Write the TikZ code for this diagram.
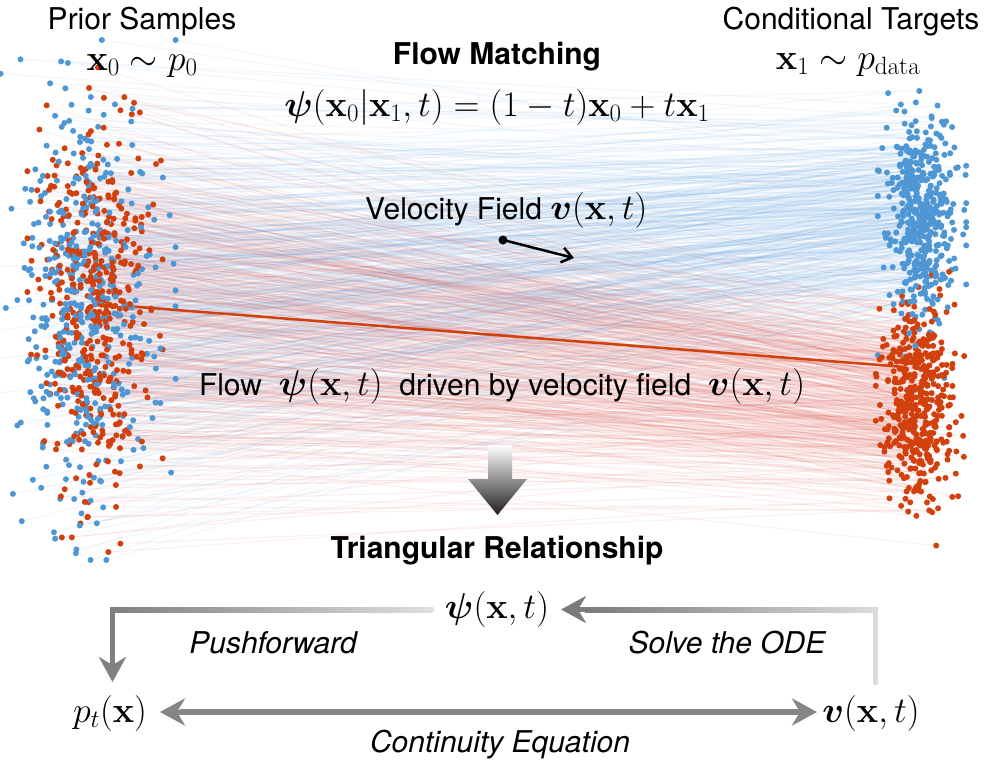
\RequirePackage{fix-cm}
\documentclass[tikz,border=0pt]{standalone}
\usepackage{amsmath,bm}
\usepackage[no-math]{fontspec}
\setmainfont{TeX Gyre Heros}
\DeclareMathSizes{30}{36}{25}{18}
\usetikzlibrary{arrows.meta,calc}
\definecolor{dotblue}{RGB}{78,150,212}
\definecolor{dotred}{RGB}{210,64,14}
\definecolor{lineblue}{RGB}{90,160,230}
\definecolor{linered}{RGB}{225,70,60}
\newcommand\fourgauss{%
  \pgfmathsetmacro\uA{max(rnd,0.0002)}%
  \pgfmathsetmacro\uB{rnd}%
  \pgfmathsetmacro\uC{max(rnd,0.0002)}%
  \pgfmathsetmacro\uD{rnd}%
  \pgfmathsetmacro\gA{max(-2.6,min(2.6,sqrt(-2*ln(\uA))*cos(360*\uB)))}%
  \pgfmathsetmacro\gB{max(-2.6,min(2.6,sqrt(-2*ln(\uA))*sin(360*\uB)))}%
  \pgfmathsetmacro\gC{max(-2.6,min(2.6,sqrt(-2*ln(\uC))*cos(360*\uD)))}%
  \pgfmathsetmacro\gD{max(-2.6,min(2.6,sqrt(-2*ln(\uC))*sin(360*\uD)))}%
}
\newcommand\bluepair{%
  \fourgauss
  \pgfmathsetmacro\lx{82+36*\gA}%
  \pgfmathsetmacro\ly{300+100*\gB}%
  \pgfmathsetmacro\rx{922+17*\gC}%
  \pgfmathsetmacro\ry{215+50*(0.7*\gB+0.714*\gD)}%
}
\newcommand\redpair{%
  \fourgauss
  \pgfmathsetmacro\lx{95+26*\gA}%
  \pgfmathsetmacro\ly{305+95*\gB}%
  \pgfmathsetmacro\rx{920+17*\gC}%
  \pgfmathsetmacro\ry{402+50*(0.7*\gB+0.714*\gD)}%
}
\tikzset{
  lbl/.style={inner sep=0pt, font=\fontsize{30}{36}\selectfont},
  lblb/.style={inner sep=0pt, font=\fontsize{30}{36}\selectfont\bfseries},
  lbli/.style={inner sep=0pt, font=\fontsize{30}{36}\selectfont\itshape},
  blueflow/.style={lineblue, line width=1.1pt, draw opacity=0.08},
  redflow/.style={linered, line width=1.1pt, draw opacity=0.08},
  headtip/.style={-{Stealth[length=25pt,width=27pt,inset=8pt]}},
}
\begin{document}
\begin{tikzpicture}[x=1pt,y=-1pt]
\fill[white] (0,0) rectangle (996,763);
\useasboundingbox (0,0) rectangle (996,763);
% flow lines
\pgfmathsetseed{11}
\foreach \i in {1,...,460}{
  \bluepair
  \draw[blueflow] (\lx,\ly) -- (\rx,\ry);
  \redpair
  \draw[redflow] (\lx,\ly) -- (\rx,\ry);
}
% highlighted trajectory
\coordinate (hlA) at (125,306);
\coordinate (hlB) at (905,367);
\draw[dotred, line width=2.5pt] (hlA) -- (hlB);
% dots
\pgfmathsetseed{11}
\foreach \i in {1,...,460}{
  \bluepair
  \fill[dotblue] (\lx,\ly) circle[radius=3pt];
  \fill[dotblue] (\rx,\ry) circle[radius=3pt];
  \redpair
  \fill[dotred] (\lx,\ly) circle[radius=3pt];
  \fill[dotred] (\rx,\ry) circle[radius=3pt];
}
% titles
\node[lbl, anchor=base] (prior) at (142,29) {Prior Samples};
\node[lbl, anchor=base] (cond) at (851,29) {Conditional Targets};
\node[lbl, anchor=base] (x0) at (142,70) {$\mathbf{x}_0\sim p_0$};
\node[lbl, anchor=base] (x1) at (848,69) {$\mathbf{x}_1\sim p_{\mathrm{data}}$};
\node[lblb, anchor=base] (fm) at (497,64) {Flow Matching};
\node[lbl, anchor=base] (formula) at (497,116) {$\bm{\psi}(\mathbf{x}_0|\mathbf{x}_1,t)=(1-t)\mathbf{x}_0+t\mathbf{x}_1$};
% velocity field
\node[lbl, anchor=base west] (vf) at (365,219) {Velocity Field $\bm{v}(\mathbf{x},t)$};
\node[circle, fill=black, inner sep=0pt, minimum size=9pt] (vdot) at (503,240) {};
\coordinate (vtip) at (574,258);
\draw[line width=2.5pt, -{Straight Barb[length=10pt,width=15pt]}] (vdot.center) -- (vtip);
\node[lbl, anchor=base] (flowtxt) at (502,395) {Flow\ \ $\bm{\psi}(\mathbf{x},t)$\ \ driven by velocity field\ \ $\bm{v}(\mathbf{x},t)$};
% big down arrow
\shade[top color=white, bottom color=black!88] (488,445) -- (512,445) -- (512,479) -- (527,479) -- (497.5,515) -- (468,479) -- (488,479) -- cycle;
% triangle
\node[lblb, anchor=base] (tri) at (497,558) {Triangular Relationship};
\node[lbl, anchor=base] (psi) at (497,618) {$\bm{\psi}(\mathbf{x},t)$};
\node[lbl, anchor=base] (pt) at (110,722) {$p_t(\mathbf{x})$};
\node[lbl, anchor=base] (vv) at (871,722) {$\bm{v}(\mathbf{x},t)$};
\node[lbli, anchor=base] (pf) at (273,653) {Pushforward};
\node[lbli, anchor=base] (ode) at (727,653) {Solve the ODE};
\node[lbli, anchor=base] (ce) at (500,752) {Continuity Equation};
% pushforward arrow
\shade[left color=black!50, right color=black!13] (110,607) rectangle (432,612);
\fill[black!13] (432,609.5) circle[radius=2.5pt];
\fill[black!50] (110,607) rectangle (115,662);
\coordinate (pfA) at (112.5,655);
\coordinate (pfB) at (112.5,682);
\draw[black!50, line width=5pt, headtip] (pfA) -- (pfB);
% solve ODE arrow
\fill[black!14] (873,607) rectangle (878,683);
\fill[black!14] (875.5,683) circle[radius=2.5pt];
\shade[left color=black!52, right color=black!14] (585,607) rectangle (878,612);
\coordinate (odA) at (590,609.5);
\coordinate (odB) at (561,609.5);
\draw[black!52, line width=5pt, headtip] (odA) -- (odB);
% continuity double arrow
\shade[left color=black!48, middle color=black!12, right color=black!48] (180,709.5) rectangle (800,714.5);
\coordinate (ceL) at (160,712);
\coordinate (ceL2) at (185,712);
\coordinate (ceR) at (817,712);
\coordinate (ceR2) at (792,712);
\draw[black!48, line width=5pt, headtip] (ceL2) -- (ceL);
\draw[black!48, line width=5pt, headtip] (ceR2) -- (ceR);
\end{tikzpicture}
\end{document}
